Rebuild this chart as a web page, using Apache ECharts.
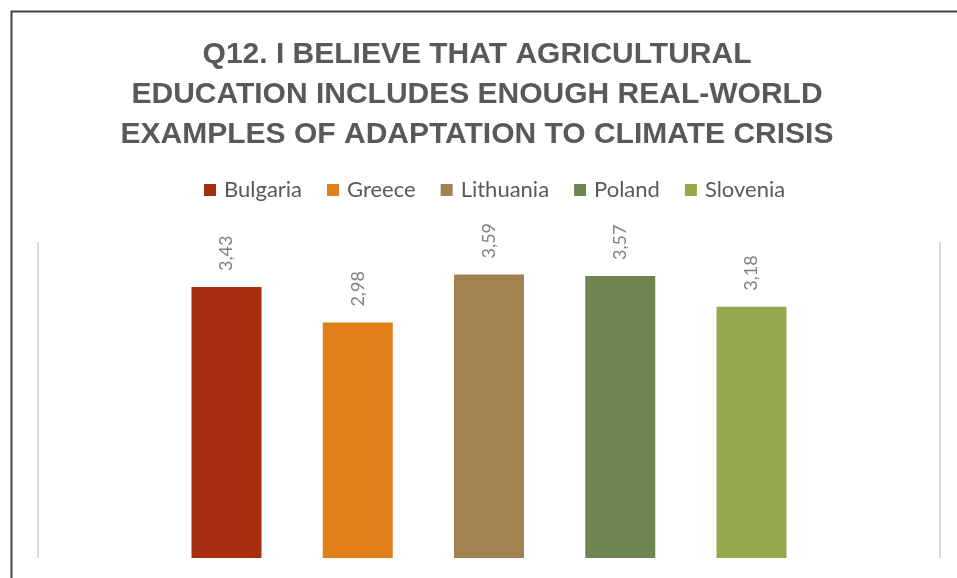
<!DOCTYPE html>
<html>
<head>
<meta charset="utf-8">
<script src="https://cdn.jsdelivr.net/npm/echarts@6/dist/echarts.min.js"></script>
<style>
  html, body { margin: 0; padding: 0; background: #ffffff; }
  #chart { width: 957px; height: 578px; }
</style>
</head>
<body>
<div id="chart"></div>
<script>
// Survey question, one group of bars
const categories = ['Q12'];
const countries = ['Bulgaria', 'Greece', 'Lithuania', 'Poland', 'Slovenia'];
const scores = [3.43, 2.98, 3.59, 3.57, 3.18];
const barColors = ['#A52F0E', '#E07E17', '#A08350', '#6F8551', '#93A94C'];
const titleLines = [
  'Q12. I BELIEVE THAT AGRICULTURAL',
  'EDUCATION INCLUDES ENOUGH REAL-WORLD',
  'EXAMPLES OF ADAPTATION TO CLIMATE CRISIS'
];

const chart = echarts.init(document.getElementById('chart'), null, { renderer: 'canvas' });

const series = countries.map((name, i) => ({
  name: name,
  type: 'bar',
  data: [scores[i]],
  barWidth: 70,
  barGap: '87.5%',
  itemStyle: { color: barColors[i] },
  label: {
    show: true,
    position: 'top',
    distance: 16,
    rotate: 90,
    align: 'left',
    verticalAlign: 'middle',
    fontFamily: 'Lato',
    fontSize: 18,
    color: '#808080',
    formatter: (p) => p.value.toFixed(2).replace('.', ',')
  }
}));

chart.setOption({
  animation: false,
  backgroundColor: '#ffffff',
  color: barColors,
  title: {
    text: titleLines.join('\n'),
    left: 472,
    top: 30,
    textAlign: 'center',
    textStyle: {
      fontFamily: 'Liberation Sans',
      fontWeight: 'bold',
      fontSize: 30,
      lineHeight: 40,
      color: '#595959'
    }
  },
  legend: {
    data: countries,
    left: 199,
    top: 174,
    itemWidth: 12,
    itemHeight: 12,
    itemGap: 25,
    icon: 'rect',
    textStyle: {
      fontFamily: 'Lato',
      fontSize: 22,
      color: '#595959',
      padding: [0, 0, 0, 3]
    }
  },
  grid: { left: 38, right: 17, top: 242, bottom: 20, containLabel: false },
  xAxis: {
    type: 'category',
    data: categories,
    axisLine: { show: false },
    axisTick: { show: false },
    axisLabel: { show: false },
    splitLine: { show: true, lineStyle: { color: '#d9d9d9', width: 2 } }
  },
  yAxis: {
    type: 'value',
    min: 0,
    max: 4,
    show: false
  },
  graphic: [{
    type: 'rect',
    left: 9,
    top: 9,
    shape: { width: 1000, height: 1000 },
    style: { fill: null, stroke: '#444444', lineWidth: 2 },
    silent: true,
    z: -1
  }],
  series: series
});
</script>
</body>
</html>
